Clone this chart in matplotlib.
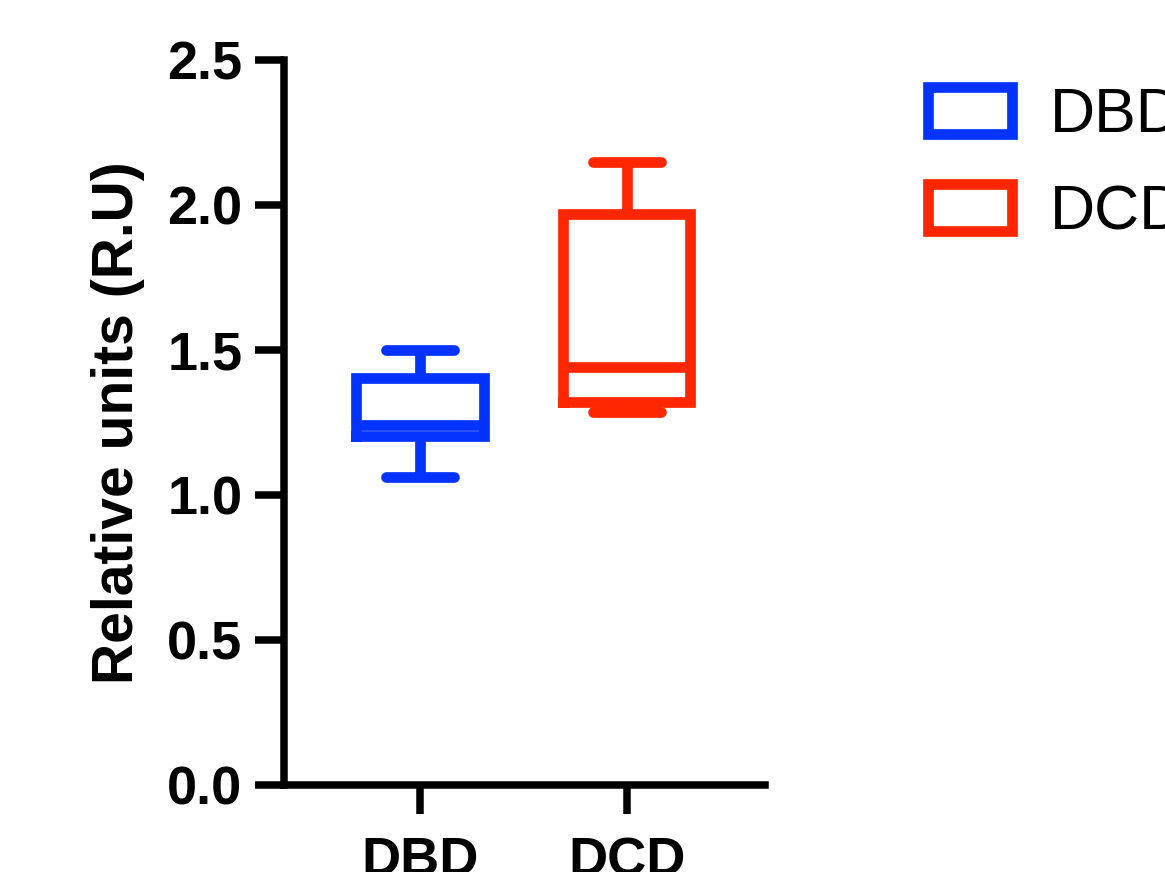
import matplotlib
matplotlib.use("Agg")
import matplotlib.pyplot as plt
from matplotlib.patches import Patch

plt.rcParams['font.family'] = ['Liberation Sans', 'DejaVu Sans']

categories = ["DBD", "DCD"]
whislo = [1.062, 1.286]
q1 = [1.203, 1.322]
med = [1.243, 1.441]
q3 = [1.403, 1.970]
whishi = [1.500, 2.148]
colors = ["#0433FF", "#FF2600"]
yticks = [0.0, 0.5, 1.0, 1.5, 2.0, 2.5]

fig = plt.figure(figsize=(11.65, 8.72), dpi=100)
ax = fig.add_axes([284/1165, 1-785/872, (765-284)/1165, (785-60)/872])

lw = 7.7
for i, c in enumerate(categories):
    stats = [dict(whislo=whislo[i], q1=q1[i], med=med[i], q3=q3[i], whishi=whishi[i], fliers=[], label=c)]
    col = colors[i]
    ax.bxp(stats, positions=[i], widths=0.614, capwidths=0.33, showfliers=False,
           boxprops=dict(color=col, linewidth=lw, solid_joinstyle='miter'),
           medianprops=dict(color=col, linewidth=lw, solid_capstyle='butt'),
           whiskerprops=dict(color=col, linewidth=lw, solid_capstyle='butt'),
           capprops=dict(color=col, linewidth=lw, solid_capstyle='round'),
           manage_ticks=False)

ax.set_xlim(-0.657, 1.667)
ax.set_ylim(0, 2.5)
ax.set_xticks(range(len(categories)))
ax.set_xticklabels(categories)
ax.set_yticks(yticks)
ax.set_yticklabels([f"{v:.1f}" for v in yticks])
for s in ['top', 'right']:
    ax.spines[s].set_visible(False)
for s in ['left', 'bottom']:
    ax.spines[s].set_linewidth(5.4)
    ax.spines[s].set_capstyle('projecting')
ax.tick_params(axis='both', length=21, width=5.4, labelsize=39, pad=9)
ax.tick_params(axis='x', pad=16)
for lab in ax.get_xticklabels() + ax.get_yticklabels():
    lab.set_fontweight('bold')

ax.set_ylabel("Relative units (R.U)", fontsize=41, fontweight='bold')
ax.yaxis.set_label_coords(-0.29, 0.5)

handles = [Patch(facecolor='white', edgecolor=colors[i], linewidth=lw, label=categories[i])
           for i in range(len(categories))]
fig.legend(handles=handles, loc='upper left', bbox_to_anchor=(928/1165, 1-86/872),
           frameon=False, fontsize=45, handlelength=1.35, handleheight=0.78,
           handletextpad=0.6, labelspacing=0.62, borderaxespad=0, borderpad=0)

fig.savefig("out.png", dpi=100)
